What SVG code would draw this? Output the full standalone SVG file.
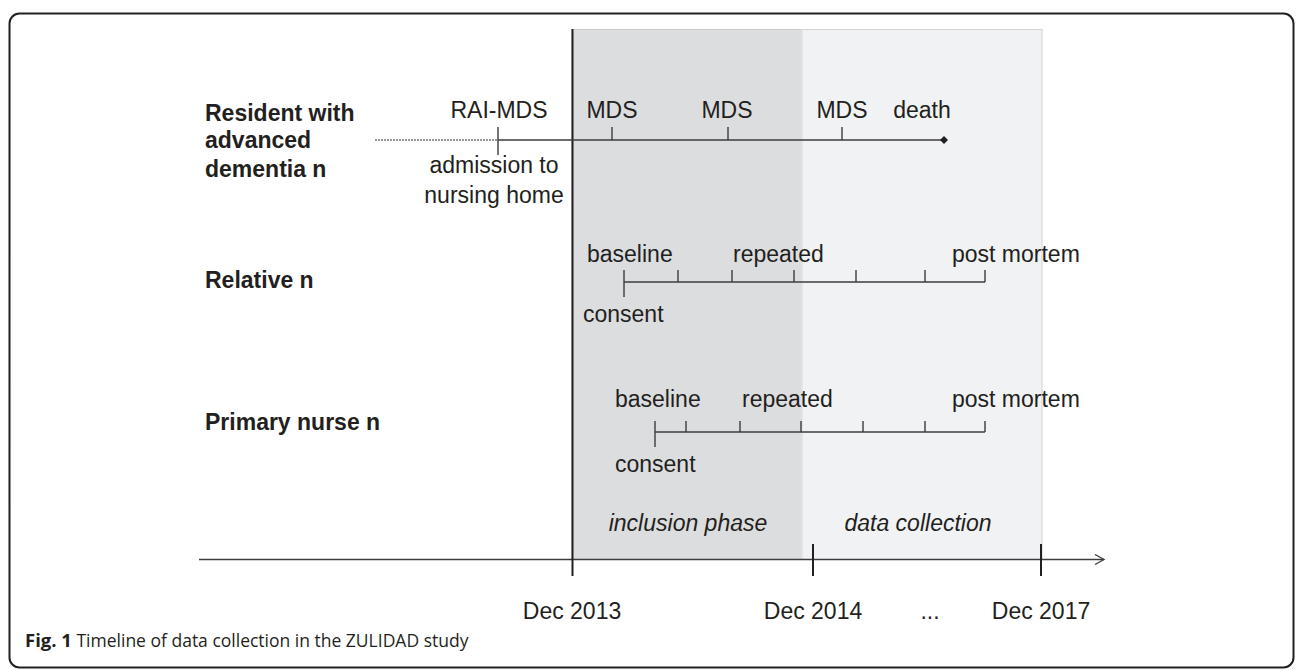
<svg xmlns="http://www.w3.org/2000/svg" width="1296" height="670" viewBox="0 0 1296 670">
<style>
.lbl{font-family:"Liberation Sans",Arial,sans-serif;font-size:23px;fill:#231f20}
.b{font-weight:bold}
.i{font-style:italic}
.tl{stroke:#3c3c3c;stroke-width:1.4;fill:none}
.tk{stroke:#3c3c3c;stroke-width:1.4}
.ax{stroke:#231f20;stroke-width:2}
.cap{font-family:"Open Sans","Noto Sans",sans-serif;font-size:17.5px;fill:#231f20}
</style>
<defs>
<marker id="arr" markerWidth="12" markerHeight="12" refX="10" refY="6" orient="auto" markerUnits="userSpaceOnUse">
<path d="M1,1 L10,6 L1,11" fill="none" stroke="#3c3c3c" stroke-width="1.3"/>
</marker>
</defs>
<rect x="9.5" y="13.5" width="1284" height="654" rx="10" ry="10" fill="#fff" stroke="#231f20" stroke-width="2"/>
<g id="phases">
<rect x="572" y="29.5" width="230" height="530" fill="#dcdddf" stroke="#c8c8c8" stroke-width="1"/>
<rect x="802" y="29.5" width="240" height="530" fill="#f1f2f4" stroke="#d2d3d5" stroke-width="1"/>
<line x1="802" y1="29.5" x2="802" y2="559.5" stroke="#e6e7e9" stroke-width="1.5"/>
<text class="lbl i" x="688" y="531" text-anchor="middle">inclusion phase</text>
<text class="lbl i" x="918" y="531" text-anchor="middle">data collection</text>
</g>
<g id="connectors">
<line x1="199" y1="559.5" x2="1104" y2="559.5" stroke="#3c3c3c" stroke-width="1.4" marker-end="url(#arr)"/>
<line class="ax" x1="572.5" y1="29" x2="572.5" y2="576"/>
<line class="ax" x1="813" y1="544" x2="813" y2="576"/>
<line class="ax" x1="1041" y1="544" x2="1041" y2="576"/>
</g>
<g id="axis-labels">
<text class="lbl" x="572" y="619" text-anchor="middle">Dec 2013</text>
<text class="lbl" x="813" y="619" text-anchor="middle">Dec 2014</text>
<text class="lbl" x="930" y="619" text-anchor="middle">...</text>
<text class="lbl" x="1041" y="619" text-anchor="middle">Dec 2017</text>
</g>
<g id="resident">
<text class="lbl b" x="205" y="121">Resident with</text>
<text class="lbl b" x="205" y="148">advanced</text>
<text class="lbl b" x="205" y="177">dementia n</text>
<line x1="375" y1="140" x2="498" y2="140" stroke="#777" stroke-width="1.3" stroke-dasharray="2,1"/>
<line class="tl" x1="498" y1="140" x2="944" y2="140"/>
<line class="tk" x1="498" y1="127" x2="498" y2="155"/>
<line class="tk" x1="612" y1="127" x2="612" y2="140"/>
<line class="tk" x1="728" y1="127" x2="728" y2="140"/>
<line class="tk" x1="842" y1="127" x2="842" y2="140"/>
<path d="M944,136 L948,140 L944,144 L940,140 Z" fill="#231f20"/>
<text class="lbl" x="499" y="118" text-anchor="middle">RAI-MDS</text>
<text class="lbl" x="612" y="118" text-anchor="middle">MDS</text>
<text class="lbl" x="727" y="118" text-anchor="middle">MDS</text>
<text class="lbl" x="842" y="118" text-anchor="middle">MDS</text>
<text class="lbl" x="922" y="118" text-anchor="middle">death</text>
<text class="lbl" x="494" y="173" text-anchor="middle">admission to</text>
<text class="lbl" x="494" y="203" text-anchor="middle">nursing home</text>
</g>
<g id="relative">
<text class="lbl b" x="205" y="288">Relative n</text>
<line class="tl" x1="624" y1="282" x2="985" y2="282"/>
<line class="tk" x1="624" y1="270" x2="624" y2="297"/>
<line class="tk" x1="678" y1="270" x2="678" y2="282"/>
<line class="tk" x1="732" y1="270" x2="732" y2="282"/>
<line class="tk" x1="794" y1="270" x2="794" y2="282"/>
<line class="tk" x1="856" y1="270" x2="856" y2="282"/>
<line class="tk" x1="925" y1="270" x2="925" y2="282"/>
<line class="tk" x1="985" y1="270" x2="985" y2="282"/>
<text class="lbl" x="587" y="262">baseline</text>
<text class="lbl" x="733" y="262">repeated</text>
<text class="lbl" x="952" y="262">post mortem</text>
<text class="lbl" x="583" y="322">consent</text>
</g>
<g id="nurse">
<text class="lbl b" x="205" y="430">Primary nurse n</text>
<line class="tl" x1="655" y1="432" x2="985" y2="432"/>
<line class="tk" x1="655" y1="421" x2="655" y2="447"/>
<line class="tk" x1="686" y1="421" x2="686" y2="432"/>
<line class="tk" x1="740" y1="421" x2="740" y2="432"/>
<line class="tk" x1="801" y1="421" x2="801" y2="432"/>
<line class="tk" x1="863" y1="421" x2="863" y2="432"/>
<line class="tk" x1="925" y1="421" x2="925" y2="432"/>
<line class="tk" x1="985" y1="421" x2="985" y2="432"/>
<text class="lbl" x="615" y="407">baseline</text>
<text class="lbl" x="742" y="407">repeated</text>
<text class="lbl" x="952" y="407">post mortem</text>
<text class="lbl" x="615" y="472">consent</text>
</g>
<text class="cap" x="25" y="647"><tspan font-weight="bold" font-size="18.5px">Fig. 1</tspan> Timeline of data collection in the ZULIDAD study</text>
</svg>
